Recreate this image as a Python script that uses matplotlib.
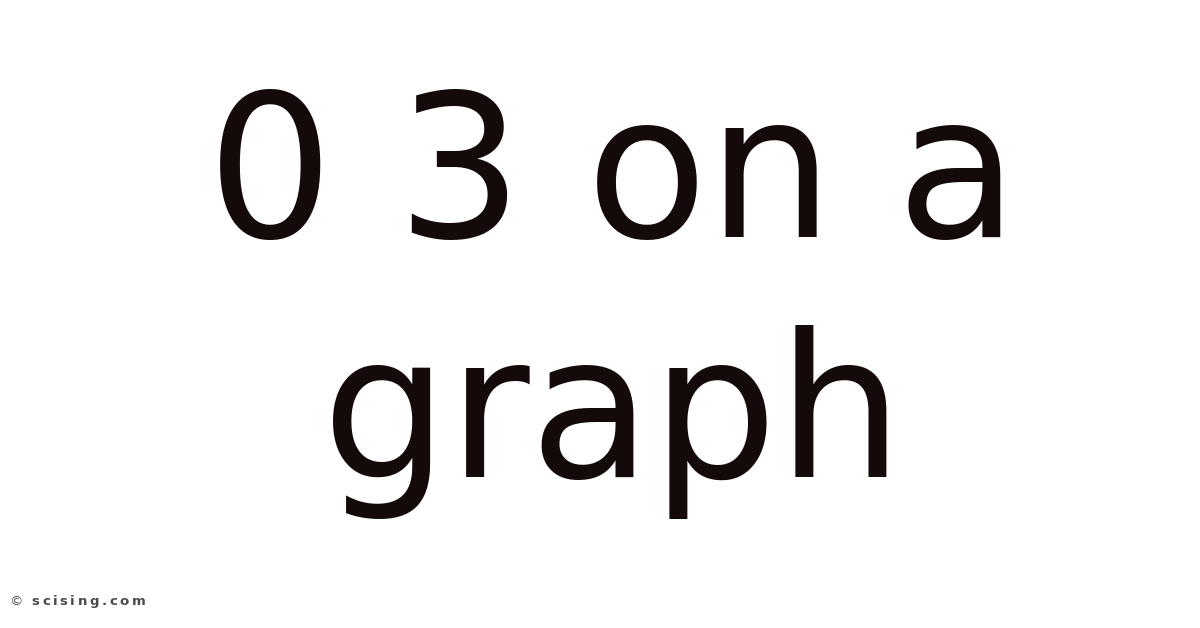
import matplotlib
matplotlib.use("Agg")
import matplotlib.pyplot as plt

title_lines = ["0 3 on a", "graph"]
baselines_px = [237, 477]
watermark = "© scising.com"

W, H = 1200, 628
fig = plt.figure(figsize=(W / 100, H / 100), dpi=100)
fig.patch.set_facecolor("white")

for line, base in zip(title_lines, baselines_px):
    fig.text(613 / W, 1 - base / H, line, ha="center", va="baseline",
             fontsize=143, color="#140a0a", family="DejaVu Sans")

# watermark, drawn with wide letter spacing
renderer = fig.canvas.get_renderer()
x = 9.0
tracking = 2.6
for ch in watermark:
    t = fig.text(x / W, 1 - 605 / H, ch, ha="left", va="baseline",
                 fontsize=9.5, color="#4a4a4a", family="DejaVu Sans",
                 weight="bold" if ch != "©" else "normal")
    if ch == " ":
        adv = 4.0
    else:
        adv = t.get_window_extent(renderer).width
    x += adv + tracking

fig.savefig("out.png", dpi=100)
